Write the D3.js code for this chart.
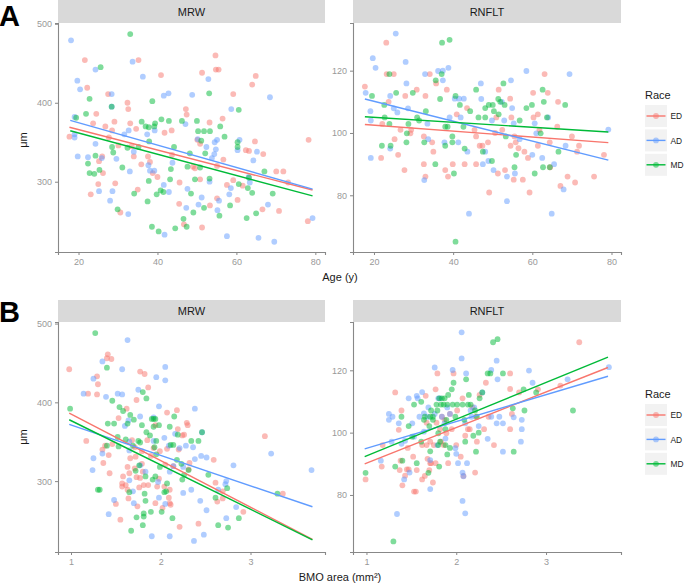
<!DOCTYPE html>
<html><head><meta charset="utf-8">
<script src="https://cdn.jsdelivr.net/npm/d3@7"></script>
<style>body{margin:0;background:#fff}svg{display:block;font-family:"Liberation Sans",Arial,Helvetica,sans-serif}</style>
</head><body><svg id="c" width="684" height="583"></svg>
<script>
const groups = ["ED","AD","MD"];
const groupColors = ["#F8766D","#619CFF","#00BA38"];
const facets = ["MRW","RNFLT"];
const ageTicks = [20,40,60,80];
const bmoTicks = [1,2,3];
const mrwTicks = [300,400,500];
const rnfltTicks = [80,100,120];

// Panel A: MRW vs Age
const ageMrwED = [[17.7,357],[21.6,454],[22.2,419],[23.1,284],[23.7,374],[24.5,386],[25,297],[25.2,326],[26.2,311],[26,332],[26.8,370],[27.5,411],[27.7,356],[28.5,365],[29.1,376],[29.3,298],[30.1,346],[30.6,261],[32.4,400],[32.6,392],[33.1,374],[33.5,345],[34,332],[34.6,367],[35.2,454],[35,290],[35.9,322],[37.6,332],[38.1,325],[38.8,311],[40,306],[40.9,435],[41.8,362],[43.6,365],[43.7,334],[45.5,272],[45.6,299],[46.7,246],[47.2,392],[47.4,385],[49,319],[49.5,317],[50.1,353],[50.8,348],[50.8,303],[51.3,242],[51.3,438],[53.2,375],[53.3,270],[54.8,442],[54.7,460],[55.1,320],[55.1,279],[55.5,442],[56.5,380],[56.7,328],[57.6,296],[59.2,411],[59.2,302],[60.3,277],[61.6,295],[62.4,340],[63.2,339],[64,423],[64.9,434],[64.7,351],[66.8,335],[66.6,265],[70.1,313],[70.8,263],[71.9,313],[73.1,299],[78.1,250],[78.3,353]];
const ageMrwAD = [[18.1,479],[19.7,428],[20.4,417],[19,382],[19,360],[19,356],[19.8,332],[22.4,331],[24.3,348],[24.3,442],[25.9,330],[25.2,288],[28,276],[28.6,288],[28.4,411],[28.4,395],[29.6,329],[31.6,360],[32.7,365],[33,313],[32.6,259],[33.7,452],[34,338],[36.3,433],[37.4,360],[37.7,321],[38.1,314],[39.2,314],[39.3,365],[41.6,409],[42.8,412],[41.6,296],[41.8,233],[42.9,287],[43.8,324],[47.1,373],[47.3,267],[47.6,291],[48.8,410],[50.2,354],[50.4,271],[51.2,280],[52.9,430],[52.4,344],[53.2,300],[53.8,330],[54.4,335],[54.8,341],[55.1,353],[54.5,350],[55.6,276],[55.2,264],[57.6,231],[58.2,284],[58.6,292],[58.7,392],[60.3,340],[60.8,353],[63.1,306],[63.4,299],[64.3,327],[65.2,338],[65.6,229],[68,271],[68.5,407],[69.6,224],[79.3,254]];
const ageMrwMD = [[19.4,381],[21.9,386],[22.8,405],[22.4,323],[22.8,311],[24,310],[24.3,333],[25.3,315],[25.6,445],[28.4,395],[28.5,344],[28.8,337],[29.9,265],[31.1,318],[32.4,343],[33.1,487],[34.1,285],[35.2,344],[36,376],[37,370],[37.5,275],[37.8,369],[37.9,351],[37.8,301],[38.6,243],[38.7,402],[39.2,370],[39.4,374],[39.8,284],[40.3,237],[40.8,289],[41,379],[41.5,287],[43.2,303],[43.4,316],[44.2,344],[42.9,377],[44.5,241],[46.2,377],[46.6,253],[47.4,243],[47.6,319],[48.2,336],[48.5,285],[49.1,261],[49.5,303],[50,377],[50.3,364],[51.1,352],[50.8,318],[51.8,364],[51.8,267],[52.1,336],[53.1,412],[53.3,364],[53.2,304],[55.7,257],[55.9,370],[57,357],[58.4,270],[60.3,350],[60.3,344],[60.6,391],[60.6,297],[62.6,254],[62.9,292],[64,286],[65,260],[67.1,313],[69.2,285],[63.2,305]];

// Panel A: RNFLT vs Age
const ageRnfltED = [[17.7,114.9],[21.8,92],[22.1,102.9],[23.2,118.9],[23.1,129],[23.7,110],[25,118.9],[25.2,98],[26.1,93],[26.7,101],[27.7,88.1],[27.9,111.9],[29.2,99.9],[29.4,101],[30.8,113.9],[32.6,98.9],[32.6,90],[33,86],[33,111.9],[34.1,118.9],[34.7,97],[35,94],[35.7,115.9],[38,88.1],[38.4,113.9],[38.7,86],[39.9,90],[40.9,106],[42.9,90],[43.5,108],[45.4,101],[45.8,90],[45.8,98.9],[46.7,95.9],[47.4,95.9],[48.8,97],[49.1,80.9],[50.9,105],[50.6,100],[51.5,113.9],[51.3,87],[52.4,101],[53.1,88.1],[54.4,111],[54.7,105],[54.5,95.9],[55.3,85],[55.5,98.9],[55.8,97],[56.5,95.1],[57.6,85],[58,94],[58.9,92],[59.3,80.9],[60.2,112.9],[60.3,105],[61.4,106],[61.4,95.9],[61.8,101],[63.1,118.9],[63.9,112.9],[64.4,97],[64.5,89],[66.3,102],[66.5,110],[67.1,83],[68.9,86],[70,98.9],[70.8,84.1],[71.3,94],[71.8,95.9],[75.6,86],[78.1,93]];
const ageRnfltAD = [[17.9,112.9],[19.1,107],[19.2,104],[19.2,92],[19.7,124],[20.4,120.9],[24.1,111.9],[24.1,95],[25,107.9],[25.5,131.9],[25.9,106.6],[28,122.8],[28.2,115.9],[28.6,107.9],[32.7,84.9],[32.9,118.9],[33.5,103],[33.7,98],[36.2,119.9],[37.4,120],[37.4,116.9],[37.8,97],[38.8,120.9],[39.1,105],[40.4,111],[41.5,111],[42.7,111],[41.9,105],[41.3,97],[43.6,94],[44,74.1],[47,115.9],[47.1,110.9],[47.5,90],[48.1,94],[48.9,91],[49.8,104],[50.2,88.1],[52.3,110],[52.9,104],[53.6,86],[53.6,78.1],[54.6,116.9],[54.9,108],[55.3,103.1],[55.6,87],[56.8,98],[58.5,119.9],[60,93],[60.6,103.1],[61,99.9],[62.5,92],[64,105],[64.9,74.1],[65.5,90],[68.4,95.9],[67.9,81.9],[69.4,118.9],[79.2,101.1]];
const ageRnfltMD = [[19.5,111.9],[22,95.9],[22.6,109],[22.7,105],[23.9,102.9],[24.2,95.9],[23.9,118.9],[25.6,112.9],[28.3,99.9],[28.2,97],[28.7,102.9],[29.8,112.9],[30.9,105],[31.4,104],[32.7,97],[33.1,107],[35.5,90],[35.6,116.9],[36.7,110.9],[37.1,118.9],[37.2,129],[38,102],[38,95.9],[38.6,102],[39.1,129.9],[39.8,98.9],[39.8,97],[40.2,87],[40.6,111.9],[40.6,65.1],[41.7,109],[42.6,102],[42.9,95],[44.3,107],[45.8,113.9],[46.4,105],[47.5,94],[48.1,105],[48.1,108],[49,109],[49.8,91],[50.3,107],[50,109],[51.4,110.9],[51.9,110],[52.7,115.9],[53,109],[51.5,106],[53.3,98.9],[55.5,89],[55.9,93],[56.8,104],[58.5,108],[59.9,109],[60.6,87],[62.1,99.9],[62.6,113.9],[62.9,110],[62.7,89],[63.7,105],[64.4,89],[66.6,94],[68.3,109]];

// Panel B: MRW vs BMO area
const bmoMrwED = [[0.98,442],[1.17,351],[1.19,411],[1.29,433],[1.3,423],[1.29,410],[1.35,340],[1.36,323],[1.38,345],[1.4,456],[1.41,461],[1.42,333],[1.45,455],[1.43,310],[1.46,347],[1.5,271],[1.53,380],[1.55,251],[1.57,297],[1.57,293],[1.58,306],[1.61,295],[1.62,392],[1.63,318],[1.63,289],[1.64,278],[1.65,310],[1.66,329],[1.68,352],[1.71,316],[1.71,343],[1.72,331],[1.73,403],[1.73,305],[1.74,268],[1.76,292],[1.77,439],[1.77,304],[1.79,338],[1.79,322],[1.8,312],[1.82,436],[1.81,295],[1.85,352],[1.86,419],[1.86,295],[1.89,332],[1.92,342],[1.94,272],[1.94,371],[1.96,293],[1.99,338],[1.98,303],[2.02,266],[2.04,293],[2.05,321],[2.07,387],[2.07,341],[2.09,279],[2.1,272],[2.1,289],[2.11,270],[2.14,319],[2.18,390],[2.19,366],[2.2,340],[2.21,242],[2.24,358],[2.26,359],[2.29,374],[2.3,371],[2.31,315],[2.32,323],[2.42,246],[2.59,327],[2.61,298],[2.63,274],[2.69,287],[2.69,278],[2.92,261],[3.16,357],[3.36,284]];
const bmoMrwAD = [[1.14,411],[1.24,314],[1.25,430],[1.25,329],[1.35,335],[1.35,452],[1.39,407],[1.42,258],[1.48,276],[1.52,411],[1.57,410],[1.57,442],[1.6,370],[1.64,377],[1.63,479],[1.65,350],[1.65,339],[1.65,301],[1.69,287],[1.7,272],[1.75,416],[1.77,382],[1.77,320],[1.83,312],[1.9,230],[1.92,381],[1.92,351],[1.95,432],[1.97,299],[1.98,395],[1.98,279],[2.04,355],[2.05,271],[2.05,428],[2.05,445],[2.09,345],[2.1,230],[2.1,312],[2.14,319],[2.16,360],[2.21,342],[2.25,318],[2.25,285],[2.28,345],[2.34,289],[2.36,343],[2.38,392],[2.38,328],[2.37,224],[2.44,275],[2.45,332],[2.46,362],[2.48,232],[2.51,330],[2.51,263],[2.64,289],[2.72,296],[2.73,300],[2.73,253],[2.81,320],[2.84,267],[3.23,335],[3.68,314]];
const bmoMrwMD = [[0.99,392],[1.27,488],[1.3,289],[1.32,289],[1.4,444],[1.4,345],[1.41,373],[1.46,402],[1.48,373],[1.52,356],[1.53,344],[1.54,394],[1.58,389],[1.61,353],[1.63,373],[1.65,286],[1.66,384],[1.67,237],[1.69,345],[1.7,378],[1.72,313],[1.73,254],[1.75,351],[1.76,320],[1.77,349],[1.79,371],[1.8,413],[1.8,244],[1.81,259],[1.81,255],[1.82,284],[1.83,275],[1.84,405],[1.83,306],[1.84,362],[1.88,358],[1.89,261],[1.9,379],[1.92,379],[1.92,369],[1.91,302],[1.94,306],[1.93,343],[1.95,334],[1.94,379],[1.95,351],[1.98,371],[2.01,261],[1.99,318],[2.04,286],[2.06,287],[2.07,297],[2.1,369],[2.11,346],[2.13,253],[2.15,382],[2.14,346],[2.18,327],[2.19,359],[2.23,322],[2.24,302],[2.26,308],[2.31,314],[2.34,351],[2.42,351],[2.46,362],[2.53,308],[2.61,279],[2.64,244],[2.74,291],[2.75,241],[2.87,253],[3.3,284]];

// Panel B: RNFLT vs BMO area
const bmoRnfltED = [[0.99,85],[1.17,89.1],[1.18,96],[1.32,112.9],[1.36,100.9],[1.37,88],[1.38,91],[1.39,107.1],[1.4,83.1],[1.43,86.2],[1.45,88.2],[1.46,95.1],[1.47,88.2],[1.52,92.3],[1.53,81.1],[1.55,81.1],[1.56,88],[1.62,85],[1.62,96],[1.65,86.1],[1.66,111.8],[1.67,103.2],[1.67,96],[1.68,91.6],[1.7,88],[1.71,97.1],[1.71,90.2],[1.72,90.2],[1.74,84],[1.75,96],[1.77,113.9],[1.77,90.2],[1.78,103.2],[1.79,119],[1.82,101.1],[1.83,97.1],[1.84,105.1],[1.86,96],[1.87,104.1],[1.89,99.8],[1.91,90.2],[1.93,106],[1.95,101.1],[1.97,119],[2,96],[2.01,107.1],[2.05,92.3],[2.07,111],[2.08,86.1],[2.1,99],[2.13,101.1],[2.15,101.1],[2.18,108.1],[2.21,87.2],[2.22,105.1],[2.23,97.1],[2.26,112.1],[2.31,101.1],[2.33,116],[2.36,105.1],[2.42,96],[2.6,114],[2.6,119],[2.62,106],[2.6,101.1],[2.7,112.9],[2.91,113.9],[3.16,115.1],[3.37,129]];
const bmoRnfltAD = [[1.16,91],[1.25,106],[1.25,104.1],[1.28,97.1],[1.29,105.1],[1.34,73.9],[1.36,103],[1.39,96.4],[1.42,85],[1.43,97.4],[1.47,111],[1.48,87.2],[1.51,103],[1.53,98.7],[1.56,111.8],[1.57,111],[1.59,105.1],[1.62,113],[1.64,100.3],[1.64,106.2],[1.68,105.1],[1.69,108.1],[1.71,81.9],[1.71,91.2],[1.76,120.9],[1.76,106],[1.79,96],[1.8,111],[1.82,111],[1.84,105.1],[1.87,103],[1.88,98.1],[1.9,108.1],[1.93,106],[1.96,120.1],[1.99,95],[2,93.2],[2.02,90.2],[2.06,132.2],[2.06,123.8],[2.07,87.2],[2.07,78.1],[2.08,86],[2.1,74.1],[2.1,103],[2.11,119],[2.12,90.2],[2.16,107.1],[2.17,105.1],[2.2,108.1],[2.25,102.1],[2.29,112.9],[2.35,98],[2.39,120.1],[2.39,105.1],[2.45,123.1],[2.45,103],[2.46,117.1],[2.48,105.1],[2.52,93.9],[2.52,103],[2.64,104.9],[2.73,101.1],[2.73,104.1],[2.72,97.1],[2.81,119.9],[2.85,116],[3.24,117.1],[3.7,121]];
const bmoRnfltMD = [[0.99,87.1],[1.3,65.1],[1.32,89.1],[1.39,105.1],[1.4,91],[1.47,102.1],[1.51,98.7],[1.53,109],[1.56,90.2],[1.61,109.9],[1.61,97.1],[1.64,104.1],[1.65,105.1],[1.69,87.1],[1.7,102.1],[1.71,94],[1.71,105.1],[1.72,107.1],[1.74,105.1],[1.74,104.1],[1.78,109],[1.79,107.1],[1.8,99.8],[1.8,96],[1.81,89.1],[1.81,111],[1.82,97.1],[1.83,109],[1.84,111],[1.86,109],[1.87,111],[1.88,101.1],[1.88,96],[1.89,104.1],[1.9,93],[1.9,109],[1.91,112.1],[1.93,95.1],[1.95,113.9],[1.96,109],[1.97,116],[1.99,105.1],[2.01,109],[2.07,109],[2.09,104.1],[2.1,97.1],[2.11,117.1],[2.13,109],[2.14,112.1],[2.16,109],[2.19,99],[2.21,107.1],[2.22,93.9],[2.23,105.1],[2.25,100],[2.26,111],[2.29,112.9],[2.35,119],[2.38,119],[2.41,129],[2.46,130],[2.52,119],[2.63,107.8],[2.64,93.9],[2.75,113.9],[2.76,107.1],[2.89,112.9],[3.3,107.1]];

// Fitted regression lines: [x0, y0, x1, y1] per group (ED, AD, MD)
const fitAgeMrw = [[17.7,369,79.3,289.5],[17.9,377.6,79.3,290.7],[17.9,364.5,79.3,282]];
const fitAgeRnflt = [[17.7,102.7,79.2,96.9],[17.7,110.9,79.2,91.3],[17.7,105.2,79.2,100.3]];
const fitBmoMrw = [[0.98,386.4,3.69,226],[0.98,372,3.69,267.4],[0.98,377.9,3.69,225.5]];
const fitBmoRnflt = [[0.98,90,3.69,120.9],[0.98,94.8,3.69,118.1],[0.98,92.3,3.69,124.2]];

const svg = d3.select("#c");
const color = d3.scaleOrdinal().domain(groups).range(groupColors);

function panel(opts){
  const {x0,x1,y0,y1,stripTop,title,xDomain,yDomain,xTicks,yTicks,series,fits} = opts;
  const xs = d3.scaleLinear().domain(xDomain).range([x0,x1]);
  const ys = d3.scaleLinear().domain(yDomain).range([y1,y0]);
  svg.append("rect").attr("x",x0).attr("y",stripTop).attr("width",x1-x0).attr("height",y0-stripTop).attr("fill","#d9d9d9");
  svg.append("text").attr("x",(x0+x1)/2).attr("y",(stripTop+y0)/2+4).attr("text-anchor","middle")
     .attr("font-size",11).attr("fill","#1a1a1a").text(title);
  const g = svg.append("g");
  series.forEach((pts,i)=>{
    g.selectAll(null).data(pts).enter().append("circle")
      .attr("cx",d=>xs(d[0])).attr("cy",d=>ys(d[1])).attr("r",2.9)
      .attr("fill",color(groups[i])).attr("fill-opacity",0.5);
  });
  fits.forEach((f,i)=>{
    g.append("line").attr("x1",xs(f[0])).attr("y1",ys(f[1])).attr("x2",xs(f[2])).attr("y2",ys(f[3]))
      .attr("stroke",color(groups[i])).attr("stroke-width",1.4);
  });
  const xa = svg.append("g").attr("transform",`translate(0,${y1})`)
     .call(d3.axisBottom(xs).tickValues(xTicks).tickSize(3).tickPadding(4).tickFormat(d3.format("d")));
  const ya = svg.append("g").attr("transform",`translate(${x0},0)`)
     .call(d3.axisLeft(ys).tickValues(yTicks).tickSize(3).tickPadding(3).tickFormat(d3.format("d")));
  [xa,ya].forEach(a=>{
    a.select(".domain").attr("stroke","#888").attr("stroke-width",1.1);
    a.selectAll(".tick line").attr("stroke","#888");
    a.selectAll(".tick text").attr("fill","#999").attr("font-size",9).attr("font-family","Liberation Sans, Arial, sans-serif");
  });
}

function legend(top){
  svg.append("text").attr("x",645).attr("y",top+5).attr("font-size",11).attr("fill","#1a1a1a").text("Race");
  groups.forEach((gname,i)=>{
    const cy = top+22+i*24.4;
    svg.append("rect").attr("x",645).attr("y",cy-11).attr("width",22).attr("height",22).attr("fill","#f2f2f2");
    svg.append("line").attr("x1",646.5).attr("x2",665.5).attr("y1",cy).attr("y2",cy).attr("stroke",color(gname)).attr("stroke-width",1.4);
    svg.append("circle").attr("cx",656).attr("cy",cy).attr("r",2.9).attr("fill",color(gname)).attr("fill-opacity",0.5);
    svg.append("text").attr("x",670.5).attr("y",cy+3.3).attr("font-size",8.4).attr("fill","#1a1a1a").text(gname);
  });
}

// Row A
panel({x0:58,x1:325,y0:23,y1:252,stripTop:0,title:facets[0],xDomain:[14.8,82.45],yDomain:[211,501],
  xTicks:ageTicks,yTicks:mrwTicks,series:[ageMrwED,ageMrwAD,ageMrwMD],fits:fitAgeMrw});
panel({x0:353,x1:621,y0:23,y1:252,stripTop:0,title:facets[1],xDomain:[14.7,82.4],yDomain:[61.8,135.3],
  xTicks:ageTicks,yTicks:rnfltTicks,series:[ageRnfltED,ageRnfltAD,ageRnfltMD],fits:fitAgeRnflt});
// Row B
panel({x0:58,x1:325,y0:322,y1:552,stripTop:300,title:facets[0],xDomain:[0.855,3.83],yDomain:[210,502],
  xTicks:bmoTicks,yTicks:mrwTicks,series:[bmoMrwED,bmoMrwAD,bmoMrwMD],fits:fitBmoMrw});
panel({x0:353,x1:621,y0:322,y1:552,stripTop:300,title:facets[1],xDomain:[0.85,3.835],yDomain:[61.7,135.5],
  xTicks:bmoTicks,yTicks:rnfltTicks,series:[bmoRnfltED,bmoRnfltAD,bmoRnfltMD],fits:fitBmoRnflt});

legend(94);
legend(393);

// axis titles
svg.append("text").attr("x",340).attr("y",281).attr("text-anchor","middle").attr("font-size",11).attr("fill","#1a1a1a").text("Age (y)");
svg.append("text").attr("x",340).attr("y",581).attr("text-anchor","middle").attr("font-size",11).attr("fill","#1a1a1a").text("BMO area (mm²)");
svg.append("text").attr("transform","translate(27,140) rotate(-90)").attr("text-anchor","middle").attr("font-size",11).attr("fill","#1a1a1a").text("μm");
svg.append("text").attr("transform","translate(27,437) rotate(-90)").attr("text-anchor","middle").attr("font-size",11).attr("fill","#1a1a1a").text("μm");

// panel letters
svg.append("text").attr("x",-1).attr("y",26).attr("font-size",29).attr("font-weight","bold").attr("fill","#000").text("A");
svg.append("text").attr("x",-1).attr("y",322).attr("font-size",29).attr("font-weight","bold").attr("fill","#000").text("B");
</script></body></html>
